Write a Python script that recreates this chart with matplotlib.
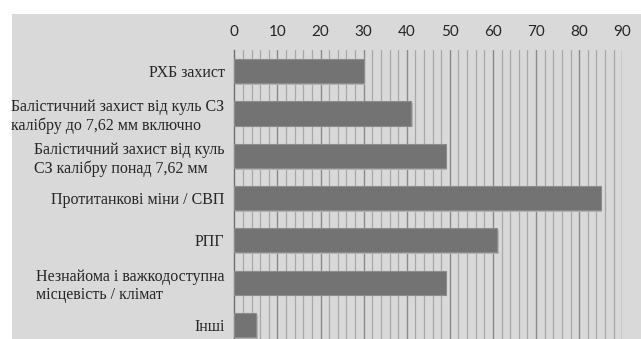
import matplotlib.pyplot as plt
import matplotlib.patches as mpatches
import numpy as np

# дані
categories = [
    "РХБ захист",
    "Балістичний захист від куль СЗ\nкалібру до 7,62 мм включно",
    "Балістичний захист від куль\nСЗ калібру понад 7,62 мм",
    "Протитанкові міни / СВП",
    "РПГ",
    "Незнайома і важкодоступна\nмісцевість / клімат",
    "Інші",
]
values = [30, 41, 49, 85, 61, 49, 5]
x_ticks = [0, 10, 20, 30, 40, 50, 60, 70, 80, 90]

W, H = 641, 339
fig = plt.figure(figsize=(W / 100, H / 100), dpi=100)
fig.patch.set_facecolor("white")

# сірий фон
fig.patches.append(mpatches.Rectangle((12 / W, 0), 1 - 12 / W, 1 - 14 / H,
                                      transform=fig.transFigure,
                                      facecolor="#d9d9d9", edgecolor="none", zorder=-10))

left, right, top = 234.3 / W, 622.3 / W, 50 / H
ax = fig.add_axes([left, 0, right - left, 1 - top])
ax.set_facecolor("none")

y = np.arange(len(categories))
# тінь
ax.barh(y + 0.04, values, height=0.57, left=0.4, color="#b5b5b5", zorder=2)
ax.barh(y, values, height=0.57, color="#737373", edgecolor="#8c8c8c",
        linewidth=0.8, zorder=3)

ax.set_xlim(0, 90)
ax.set_ylim(6.33, -0.5)

# сітка
for v in np.arange(2, 91, 2):
    major = v % 10 == 0
    ax.axvline(v, color="#8a8a8a" if major else "#a8a8a8",
               linewidth=1.0 if major else 0.9, zorder=1)

ax.xaxis.tick_top()
ax.set_xticks(x_ticks)
ax.set_xticklabels([str(t) for t in x_ticks], fontsize=11, family="Lato",
                   color="#262626")
ax.tick_params(axis="x", length=0, pad=8)
ax.set_yticks(y)
ax.set_yticklabels(categories, fontsize=11.5, family="Liberation Serif",
                   color="#262626", linespacing=1.2, multialignment="left")
ax.tick_params(axis="y", length=0, pad=7)

for s in ["top", "right", "bottom"]:
    ax.spines[s].set_visible(False)
ax.spines["left"].set_color("#6e6e6e")
ax.spines["left"].set_linewidth(1.0)

fig.savefig("out.png", dpi=100)
